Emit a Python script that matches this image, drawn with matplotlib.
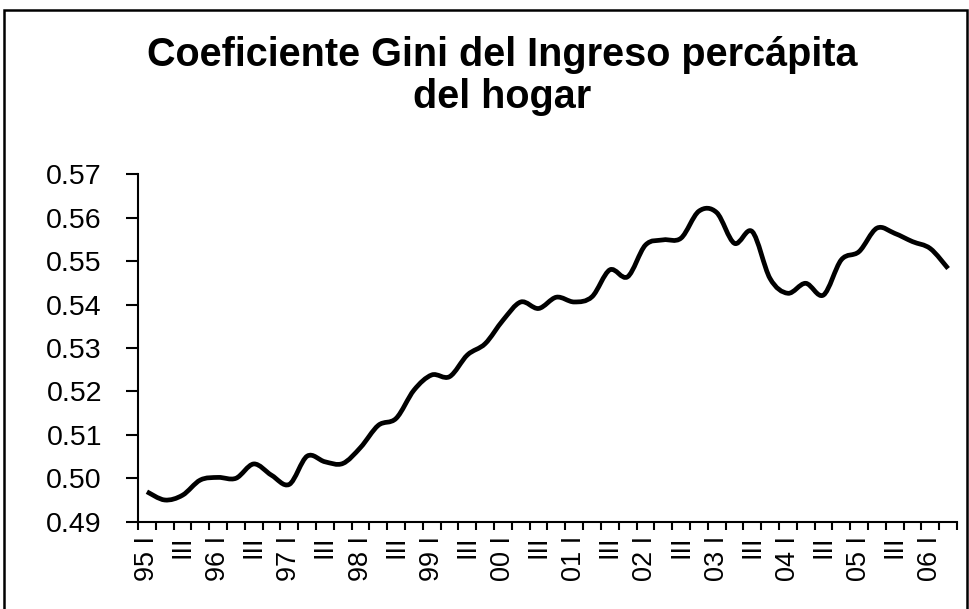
import matplotlib
matplotlib.use("Agg")
import matplotlib.pyplot as plt
from matplotlib.path import Path
from matplotlib.patches import PathPatch, Rectangle
import numpy as np

# ---- data ----
years = ["95", "96", "97", "98", "99", "00", "01", "02", "03", "04", "05", "06"]
quarters = ["I", "II", "III", "IV"]
gini = [0.4969, 0.4950, 0.4961, 0.4996, 0.5002, 0.5000, 0.5033, 0.5007,
        0.4986, 0.5051, 0.5038, 0.5034, 0.5071, 0.5122, 0.5138, 0.5203,
        0.5238, 0.5234, 0.5284, 0.5310, 0.5364, 0.5406, 0.5391, 0.5417,
        0.5406, 0.5418, 0.5480, 0.5464, 0.5537, 0.5549, 0.5553, 0.5615,
        0.5612, 0.5541, 0.5568, 0.5460, 0.5426, 0.5449, 0.5422, 0.5503,
        0.5522, 0.5576, 0.5564, 0.5545, 0.5529, 0.5483]
y_ticks = [0.49, 0.50, 0.51, 0.52, 0.53, 0.54, 0.55, 0.56, 0.57]
title = "Coeficiente Gini del Ingreso percápita\ndel hogar"

# category labels (quarters)
cats = []
for y in years:
    for q in quarters:
        cats.append(f"{y} {q}" if q == "I" else q)
cats = cats[:len(gini)]

W, H = 970, 609
fig = plt.figure(figsize=(W / 100, H / 100), dpi=100)
fig.patch.set_facecolor("white")

# outer frame
fig.patches.append(Rectangle((4 / W, -0.05), 963 / W, 1 - 10 / H + 0.05,
                             transform=fig.transFigure, fill=False,
                             edgecolor="black", linewidth=1.8))

left, right = 138 / W, 957 / W
bottom, top = 1 - 521.7 / H, 1 - 174.3 / H
ax = fig.add_axes([left, bottom, right - left, top - bottom])

n = len(gini)
x = np.arange(n)
y = np.array(gini)

# smoothed line (Bezier, like a spreadsheet "smoothed line")
verts = [(x[0], y[0])]
codes = [Path.MOVETO]
for i in range(n - 1):
    p0 = np.array([x[max(i - 1, 0)], y[max(i - 1, 0)]])
    p1 = np.array([x[i], y[i]])
    p2 = np.array([x[i + 1], y[i + 1]])
    p3 = np.array([x[min(i + 2, n - 1)], y[min(i + 2, n - 1)]])
    c1 = p1 + (p2 - p0) / 6.0
    c2 = p2 - (p3 - p1) / 6.0
    verts += [tuple(c1), tuple(c2), tuple(p2)]
    codes += [Path.CURVE4] * 3
ax.add_patch(PathPatch(Path(verts, codes), fill=False, edgecolor="black",
                       linewidth=3.4, capstyle="butt", joinstyle="round"))

ax.set_xlim(-0.5, n - 0.5)
ax.set_ylim(0.49, 0.57)

for s in ["top", "right"]:
    ax.spines[s].set_visible(False)
for s in ["left", "bottom"]:
    ax.spines[s].set_linewidth(1.5)
    ax.spines[s].set_color("black")

ax.set_yticks(y_ticks)
ax.set_yticklabels([f"{v:.2f}" for v in y_ticks])
ax.tick_params(axis="y", direction="out", length=9, width=1.5, pad=17,
               labelsize=20.5)

# x: ticks at category boundaries, labels at every other category center
ax.set_xticks(np.arange(n + 1) - 0.5)
ax.set_xticklabels([])
ax.tick_params(axis="x", which="major", direction="out", length=6, width=1.5)
lab_pos = x[::2]
ax.set_xticks(lab_pos, minor=True)
ax.set_xticklabels([cats[i] for i in lab_pos], minor=True, rotation=90,
                   fontsize=19.5, va="top", ha="center")
ax.tick_params(axis="x", which="minor", length=0, pad=10)

for lbl in ax.get_yticklabels() + ax.get_xticklabels(minor=True):
    lbl.set_fontfamily("Liberation Sans")

fig.text(502 / W, 1 - 76 / H, title, ha="center", va="center",
         fontsize=28.5, fontweight="bold", family="Liberation Sans",
         linespacing=1.12)

fig.savefig("out.png", dpi=100, facecolor="white")
